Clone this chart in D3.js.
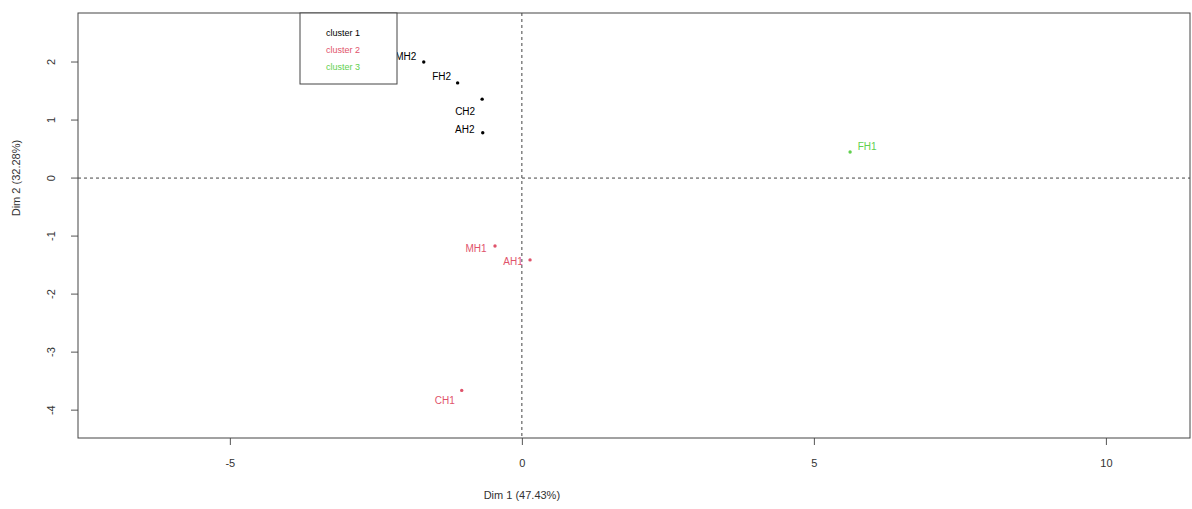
<!DOCTYPE html>
<html>
<head>
<meta charset="utf-8">
<script src="https://cdn.jsdelivr.net/npm/d3@7"></script>
<style>
  body { margin: 0; background: #fff; }
  text { font-family: "Liberation Sans", Arial, sans-serif; }
</style>
</head>
<body>
<div id="chart"></div>
<script>
// Data
const names = ['MH2', 'FH2', 'CH2', 'AH2', 'FH1', 'MH1', 'AH1', 'CH1']
const dim1 = [-1.68, -1.10, -0.68, -0.67, 5.62, -0.46, 0.14, -1.03]
const dim2 = [2.00, 1.64, 1.36, 0.78, 0.45, -1.17, -1.41, -3.66]
const cluster = [1, 1, 1, 1, 3, 2, 2, 2]
const clusterNames = ['cluster 1', 'cluster 2', 'cluster 3']
const xTicks = [-5, 0, 5, 10]
const yTicks = [-4, -3, -2, -1, 0, 1, 2]

// label nudges (pixels), like the jittered text of the original
const labelShift = [[-18, -6], [-16, -6], [-17, 12], [-18, -3], [17, -5], [-19, 3], [-17, 2], [-17, 10]]

const width = 1192,
height = 509,
plotLeft = 78, plotRight = 1190, plotTop = 13, plotBottom = 438

const colors = ['#000000', '#DF536B', '#61D04F']

const svg = d3.select('#chart')
.append('svg')
.attr('width', width)
.attr('height', height)

const x = d3.scaleLinear()
.domain([-7.6, 11.44])
.range([plotLeft, plotRight])

const y = d3.scaleLinear()
.domain([-4.48, 2.845])
.range([plotBottom, plotTop])

// zero lines
svg.append('line')
.attr('x1', x(0)).attr('x2', x(0))
.attr('y1', plotTop).attr('y2', plotBottom)
.attr('stroke', '#444').attr('stroke-dasharray', '3,3')

svg.append('line')
.attr('x1', plotLeft).attr('x2', plotRight)
.attr('y1', y(0)).attr('y2', y(0))
.attr('stroke', '#444').attr('stroke-dasharray', '3,3')

// axes (R style: plain hyphen for negatives)
const fmt = d => String(d)

const xAxis = svg.append('g')
.attr('transform', `translate(0,${plotBottom})`)
.call(d3.axisBottom(x).tickValues(xTicks).tickSize(7).tickPadding(14).tickFormat(fmt))

const yAxis = svg.append('g')
.attr('transform', `translate(${plotLeft},0)`)
.call(d3.axisLeft(y).tickValues(yTicks).tickSize(7).tickFormat(fmt))

xAxis.select('.domain').remove()
yAxis.select('.domain').remove()
svg.selectAll('.tick line').attr('stroke', '#555')
svg.selectAll('.tick text').attr('fill', '#333').style('font-size', '11px')
  .style('font-family', '"Liberation Sans", Arial, sans-serif')

yAxis.selectAll('.tick')
.attr('transform', null)
yAxis.selectAll('.tick line')
.attr('y1', d => y(d)).attr('y2', d => y(d))
yAxis.selectAll('.tick text')
.attr('x', 0).attr('dy', 0).attr('y', 4)
.attr('text-anchor', 'middle')
.attr('transform', d => `translate(-27,${y(d)}) rotate(-90)`)

// box
svg.append('rect')
.attr('x', plotLeft).attr('y', plotTop)
.attr('width', plotRight - plotLeft).attr('height', plotBottom - plotTop)
.attr('fill', 'none').attr('stroke', '#444')

// axis titles
svg.append('text')
.attr('x', x(0)).attr('y', 499)
.attr('text-anchor', 'middle')
.style('font-size', '11px').attr('fill', '#333')
.text('Dim 1 (47.43%)')

svg.append('text')
.attr('transform', `translate(20,${y(0)}) rotate(-90)`)
.attr('text-anchor', 'middle')
.style('font-size', '11px').attr('fill', '#333')
.text('Dim 2 (32.28%)')

// points
svg.selectAll('circle.pt')
.data(names)
.enter()
.append('circle')
.attr('class', 'pt')
.attr('cx', (d, i) => x(dim1[i]))
.attr('cy', (d, i) => y(dim2[i]))
.attr('r', 1.7)
.attr('fill', (d, i) => colors[cluster[i] - 1])

svg.selectAll('text.lab')
.data(names)
.enter()
.append('text')
.attr('class', 'lab')
.attr('x', (d, i) => x(dim1[i]) + labelShift[i][0])
.attr('y', (d, i) => y(dim2[i]) + labelShift[i][1])
.attr('text-anchor', 'middle')
.attr('dy', '0.35em')
.style('font-size', '10px')
.attr('fill', (d, i) => colors[cluster[i] - 1])
.text(d => d)

// legend
const legend = svg.append('g')
legend.append('rect')
.attr('x', 300).attr('y', plotTop)
.attr('width', 97).attr('height', 71)
.attr('fill', '#fff').attr('stroke', '#444')

legend.selectAll('text')
.data(clusterNames)
.enter()
.append('text')
.attr('x', 326)
.attr('y', (d, i) => 33 + i * 17)
.attr('dy', '0.35em')
.style('font-size', '9px')
.attr('fill', (d, i) => colors[i])
.text(d => d)
</script>
</body>
</html>
